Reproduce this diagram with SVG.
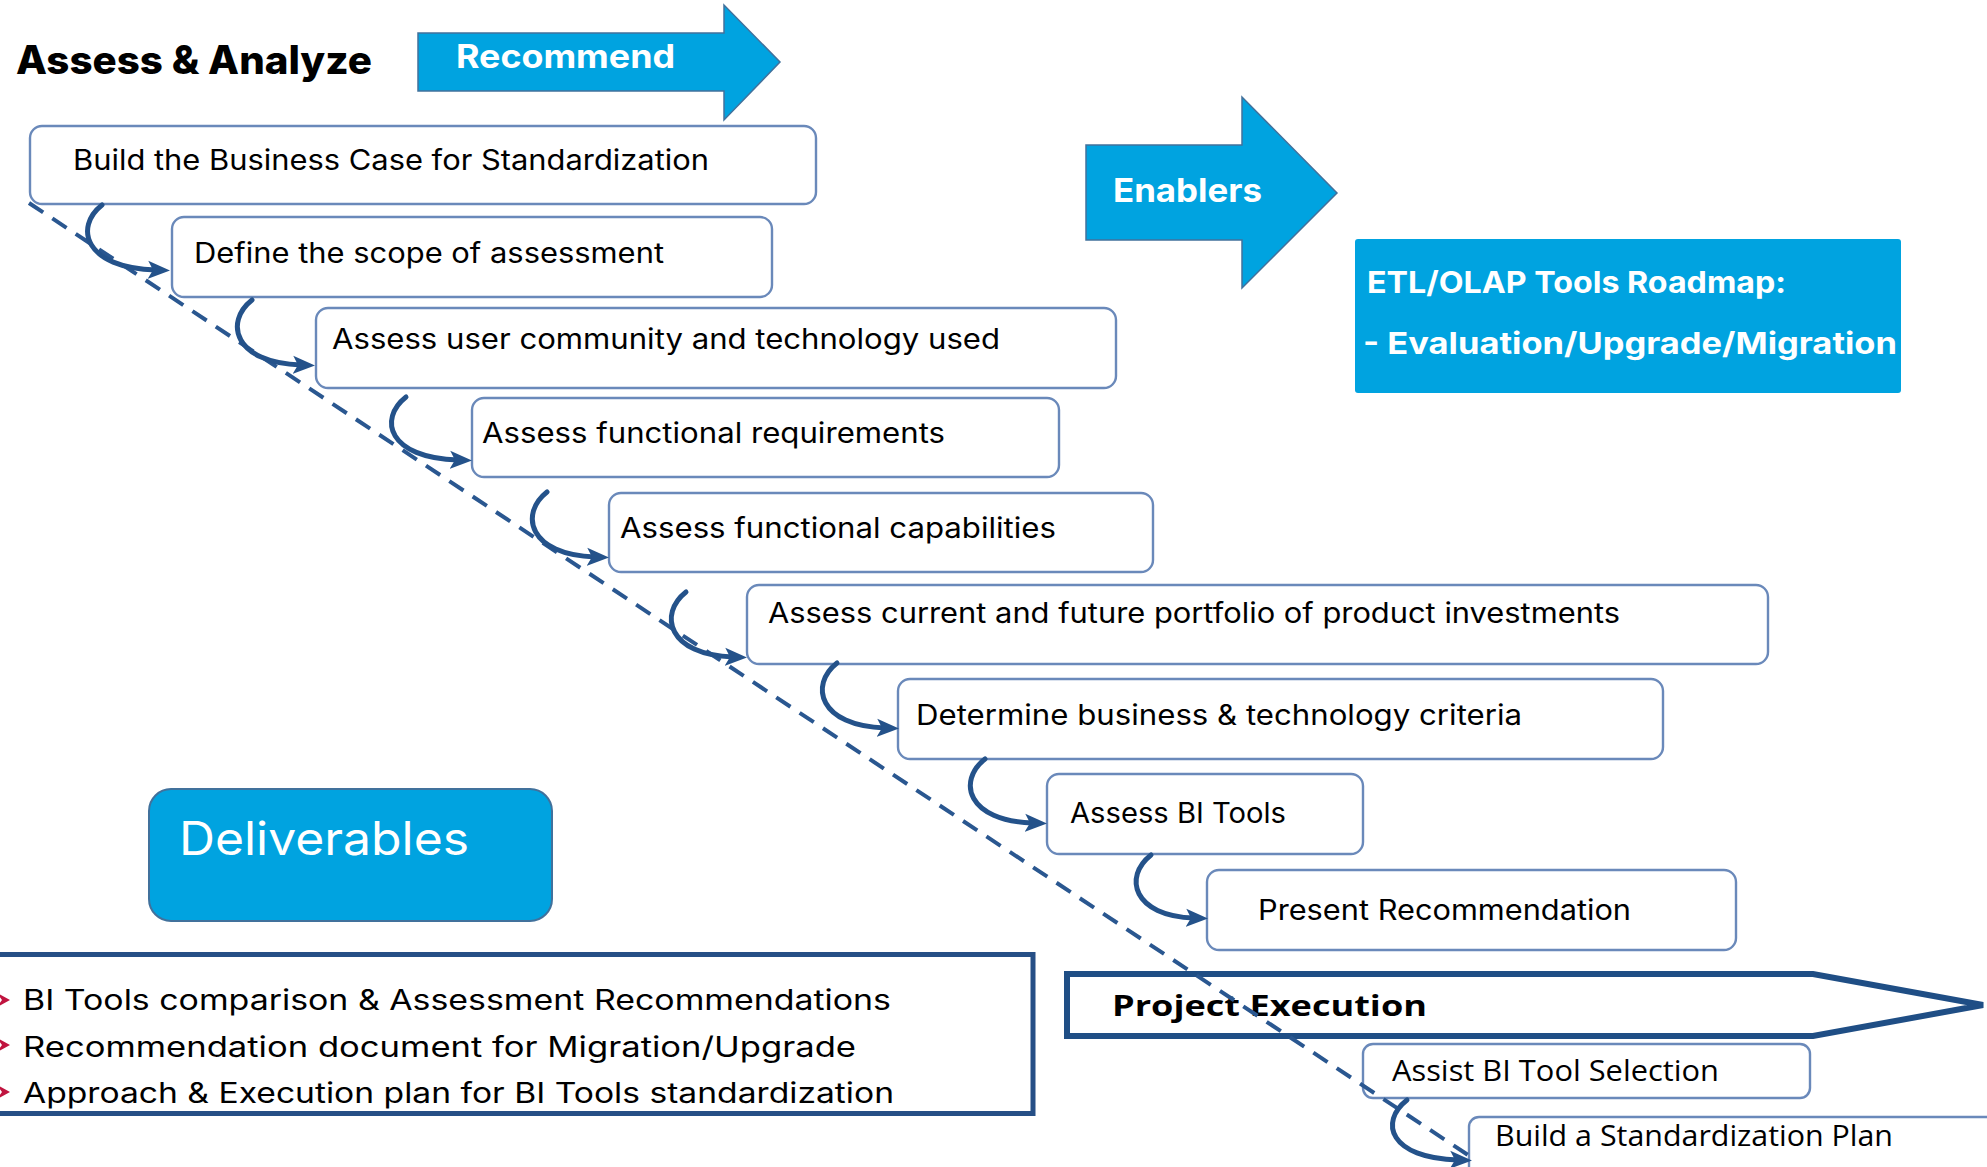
<svg xmlns="http://www.w3.org/2000/svg" width="1987" height="1167" viewBox="0 0 1987 1167">
  <defs>
    <style>
      .box { fill: #ffffff; stroke: #6A89BA; stroke-width: 2.4; }
      .t { font-family: Inter, "Noto Sans", "Liberation Sans", sans-serif; font-size: 28px; fill: #000000; }
      .tb { font-family: "Open Sans", "Noto Sans", "Liberation Sans", sans-serif; font-size: 29px; fill: #000000; }
      .cyan { fill: #00A3E0; stroke: #41719C; stroke-width: 1.5; }
      .wt { font-family: Inter, "Noto Sans", "Liberation Sans", sans-serif; fill: #ffffff; font-weight: 700; }
      .arrow { fill: none; stroke: #24528A; stroke-width: 5; stroke-linecap: round; marker-end: url(#ah); }
      .dash { fill: none; stroke: #2A5790; stroke-width: 4; stroke-dasharray: 17 11; }
      .bullet { fill: #C0143F; }
    </style>
    <marker id="ah" markerUnits="userSpaceOnUse" markerWidth="22" markerHeight="22" viewBox="0 0 22 22" refX="8" refY="11" orient="auto">
      <path d="M0,2 L22,11 L0,20 L5,11 Z" fill="#24528A"/>
    </marker>
  </defs>
  <rect width="1987" height="1167" fill="#ffffff"/>

  <g id="title">
    <text x="16" y="74" font-family="Inter, 'Noto Sans', sans-serif" font-size="39" font-weight="800" fill="#000" textLength="356" lengthAdjust="spacingAndGlyphs">Assess &amp; Analyze</text>
  </g>

  <g id="recommend">
    <polygon class="cyan" points="418,33 724,33 724,5 780,62 724,120 724,91 418,91"/>
    <text class="wt" x="456" y="68" font-size="32" textLength="219" lengthAdjust="spacingAndGlyphs">Recommend</text>
  </g>

  <g id="enablers">
    <polygon class="cyan" points="1086,145 1242,145 1242,97 1337,193 1242,288 1242,240 1086,240"/>
    <text class="wt" x="1113" y="202" font-size="32" textLength="149" lengthAdjust="spacingAndGlyphs">Enablers</text>
  </g>

  <g id="etl-roadmap">
    <rect x="1355" y="239" width="546" height="154" rx="3" fill="#00A3E0"/>
    <text class="wt" x="1367" y="293" font-size="30" textLength="419" lengthAdjust="spacingAndGlyphs">ETL/OLAP Tools Roadmap:</text>
    <text class="wt" x="1363" y="354" font-size="30" textLength="534" lengthAdjust="spacingAndGlyphs">- Evaluation/Upgrade/Migration</text>
  </g>

  <g id="step1">
    <rect class="box" x="30" y="126" width="786" height="78" rx="12"/>
    <text class="t" x="73" y="170" textLength="636" lengthAdjust="spacingAndGlyphs">Build the Business Case for Standardization</text>
  </g>
  <g id="step2">
    <rect class="box" x="172" y="217" width="600" height="80" rx="12"/>
    <text class="t" x="194" y="263" textLength="470" lengthAdjust="spacingAndGlyphs">Define the scope of assessment</text>
  </g>
  <g id="step3">
    <rect class="box" x="316" y="308" width="800" height="80" rx="12"/>
    <text class="t" x="332" y="349" textLength="668" lengthAdjust="spacingAndGlyphs">Assess user community and technology used</text>
  </g>
  <g id="step4">
    <rect class="box" x="472" y="398" width="587" height="79" rx="12"/>
    <text class="t" x="482" y="443" textLength="463" lengthAdjust="spacingAndGlyphs">Assess functional requirements</text>
  </g>
  <g id="step5">
    <rect class="box" x="609" y="493" width="544" height="79" rx="12"/>
    <text class="t" x="620" y="538" textLength="436" lengthAdjust="spacingAndGlyphs">Assess functional capabilities</text>
  </g>
  <g id="step6">
    <rect class="box" x="747" y="585" width="1021" height="79" rx="12"/>
    <text class="t" x="768" y="623" textLength="852" lengthAdjust="spacingAndGlyphs">Assess current and future portfolio of product investments</text>
  </g>
  <g id="step7">
    <rect class="box" x="898" y="679" width="765" height="80" rx="12"/>
    <text class="t" x="916" y="725" textLength="606" lengthAdjust="spacingAndGlyphs">Determine business &amp; technology criteria</text>
  </g>
  <g id="step8">
    <rect class="box" x="1047" y="774" width="316" height="80" rx="12"/>
    <text class="t" x="1070" y="823" textLength="216" lengthAdjust="spacingAndGlyphs">Assess BI Tools</text>
  </g>
  <g id="step9">
    <rect class="box" x="1207" y="870" width="529" height="80" rx="12"/>
    <text class="t" x="1258" y="920" textLength="373" lengthAdjust="spacingAndGlyphs">Present Recommendation</text>
  </g>

  <g id="deliverables">
    <rect x="149" y="789" width="403" height="132" rx="22" fill="#00A3E0" stroke="#41719C" stroke-width="2"/>
    <text x="179" y="855" font-family="Inter, 'Noto Sans', sans-serif" font-size="46" fill="#ffffff" textLength="290" lengthAdjust="spacingAndGlyphs">Deliverables</text>
  </g>

  <g id="deliverables-list">
    <rect x="-10" y="954.5" width="1043" height="159" fill="none" stroke="#264F86" stroke-width="5"/>
    <polygon class="bullet" points="-3,993 10,1000 -3,1007 2,1000"/>
    <polygon class="bullet" points="-3,1038 10,1045 -3,1052 2,1045"/>
    <polygon class="bullet" points="-3,1085 10,1092 -3,1099 2,1092"/>
    <text class="t" x="23" y="1010" font-size="31" textLength="868" lengthAdjust="spacingAndGlyphs">BI Tools comparison &amp; Assessment  Recommendations</text>
    <text class="t" x="23" y="1057" font-size="31" textLength="833" lengthAdjust="spacingAndGlyphs">Recommendation document for Migration/Upgrade</text>
    <text class="t" x="23" y="1103" font-size="31" textLength="871" lengthAdjust="spacingAndGlyphs">Approach &amp; Execution plan for BI Tools standardization</text>
  </g>

  <g id="project-execution">
    <polygon points="1067,974 1813,974 1983,1005 1813,1036 1067,1036" fill="#ffffff" stroke="#1F4E85" stroke-width="6" stroke-linejoin="miter"/>
    <text class="tb" x="1112" y="1016" font-size="38" font-weight="700" textLength="315" lengthAdjust="spacingAndGlyphs">Project Execution</text>
  </g>

  <g id="step10">
    <rect class="box" x="1363" y="1044" width="447" height="54" rx="10"/>
    <text class="tb" x="1392" y="1081" textLength="327" lengthAdjust="spacingAndGlyphs">Assist  BI Tool Selection</text>
  </g>
  <g id="step11">
    <rect class="box" x="1469" y="1117" width="560" height="80" rx="10"/>
    <text class="tb" x="1495" y="1146" textLength="398" lengthAdjust="spacingAndGlyphs">Build a Standardization Plan</text>
  </g>

  <g id="connectors">
    <line class="dash" x1="29" y1="203" x2="1468" y2="1155"/>
    <path class="arrow" d="M102,205 C74,227 84,268 156,270"/>
    <path class="arrow" d="M252,300 C224,322 234,363 301,365"/>
    <path class="arrow" d="M406,397 C378,419 388,458 458,460"/>
    <path class="arrow" d="M547,492 C519,514 529,555 595,557"/>
    <path class="arrow" d="M686,592 C658,614 668,655 733,657"/>
    <path class="arrow" d="M837,663 C809,685 819,726 885,728"/>
    <path class="arrow" d="M985,759 C957,781 967,821 1033,823"/>
    <path class="arrow" d="M1151,855 C1123,877 1133,916 1194,918"/>
    <path class="arrow" d="M1407,1100 C1379,1122 1389,1158 1458,1160"/>
  </g>
</svg>
